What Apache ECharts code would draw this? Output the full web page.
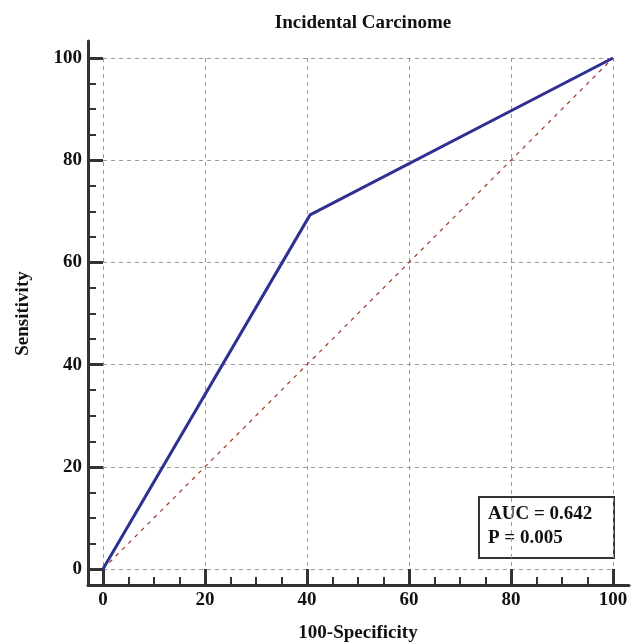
<!DOCTYPE html>
<html><head><meta charset="utf-8">
<script src="https://cdn.jsdelivr.net/npm/echarts@6/dist/echarts.min.js"></script>
<style>html,body{margin:0;padding:0;background:#fff}#c{width:635px;height:643px}</style>
</head><body><div id="c"></div>
<script>
const titleText = 'Incidental Carcinome';
const xName = '100-Specificity';
const yName = 'Sensitivity';
const rocX = [0, 40.6, 100];
const rocY = [0, 69.3, 100];
const refX = [0, 100];
const refY = [0, 100];
const majorTicks = [0, 20, 40, 60, 80, 100];
const minorTicks = [5, 10, 15, 25, 30, 35, 45, 50, 55, 65, 70, 75, 85, 90, 95];
const statLines = ['AUC = 0.642', 'P = 0.005'];

const FONT = '"Liberation Serif", "Times New Roman", serif';
const chart = echarts.init(document.getElementById('c'), null, {renderer: 'canvas'});
const axisCol = '#333';

// layout (pixels)
const G0 = {left: 103, right: 22, top: 58, bottom: 74};   // data area 0..100
const G1 = {left: 88, right: 6, top: 41, bottom: 58};     // axis-line frame
const W = 635, H = 643;
const pxX = (W - G0.left - G0.right) / 100;
const pxY = (H - G0.top - G0.bottom) / 100;
const x1min = -(G0.left - G1.left) / pxX;
const x1max = 100 + (G0.right - G1.right) / pxX;
const y1min = -(G0.bottom - G1.bottom) / pxY;
const y1max = 100 + (G0.top - G1.top) / pxY;

const mainAxis = (offset, name, gap) => ({
  type: 'value', min: 0, max: 100, interval: 20, gridIndex: 0, offset: offset,
  axisLine: {show: false}, axisTick: {show: false},
  axisLabel: {show: true, color: '#111', fontFamily: FONT, fontWeight: 'bold', fontSize: 19, margin: 6},
  splitLine: {show: true, lineStyle: {color: '#999', width: 1, type: [4, 4]}},
  name: name, nameLocation: 'middle', nameGap: gap,
  nameTextStyle: {color: '#111', fontFamily: FONT, fontWeight: 'bold', fontSize: 19}
});
const frameAxis = (min, max, pos, ticks, len, w, showLine) => ({
  type: 'value', min: min, max: max, gridIndex: 1, position: pos, offset: 0,
  axisLine: {show: showLine, onZero: false, lineStyle: {color: axisCol, width: 3}},
  axisTick: {show: true, inside: true, length: len, customValues: ticks,
    lineStyle: {color: axisCol, width: w}},
  axisLabel: {show: false}, splitLine: {show: false}
});
chart.setOption({
  animation: false,
  backgroundColor: '#fff',
  title: {text: titleText, left: 358, textAlign: 'center', top: 9,
    textStyle: {fontFamily: FONT, fontWeight: 'bold', fontSize: 19, color: '#111'}},
  grid: [
    Object.assign({containLabel: false, outerBoundsMode: 'none'}, G0),
    Object.assign({containLabel: false, outerBoundsMode: 'none'}, G1)
  ],
  xAxis: [
    mainAxis(16, xName, 39),
    frameAxis(x1min, x1max, 'bottom', majorTicks, 16, 3, true),
    frameAxis(x1min, x1max, 'bottom', minorTicks, 8, 2, false)
  ],
  yAxis: [
    mainAxis(15, yName, 55),
    frameAxis(y1min, y1max, 'left', majorTicks, 15, 3, true),
    frameAxis(y1min, y1max, 'left', minorTicks, 8, 2, false)
  ],
  series: [
    {type: 'line', xAxisIndex: 0, yAxisIndex: 0, data: refX.map((v, i) => [v, refY[i]]),
      symbol: 'none', lineStyle: {color: '#a3332c', width: 1.2, type: [4, 5]}, z: 2},
    {type: 'line', xAxisIndex: 0, yAxisIndex: 0, data: rocX.map((v, i) => [v, rocY[i]]),
      symbol: 'none', lineStyle: {color: '#2e3192', width: 3}, z: 3}
  ],
  graphic: [
    {type: 'group', left: 478, top: 496, z: 10, children: [
      {type: 'rect', shape: {x: 0, y: 0, width: 135, height: 61},
        style: {fill: '#fff', stroke: '#333', lineWidth: 2}},
      {type: 'text', x: 9, y: 8, style: {text: statLines[0], font: 'bold 19px ' + FONT, fill: '#111'}},
      {type: 'text', x: 9, y: 32, style: {text: statLines[1], font: 'bold 19px ' + FONT, fill: '#111'}}
    ]}
  ]
});
</script></body></html>
